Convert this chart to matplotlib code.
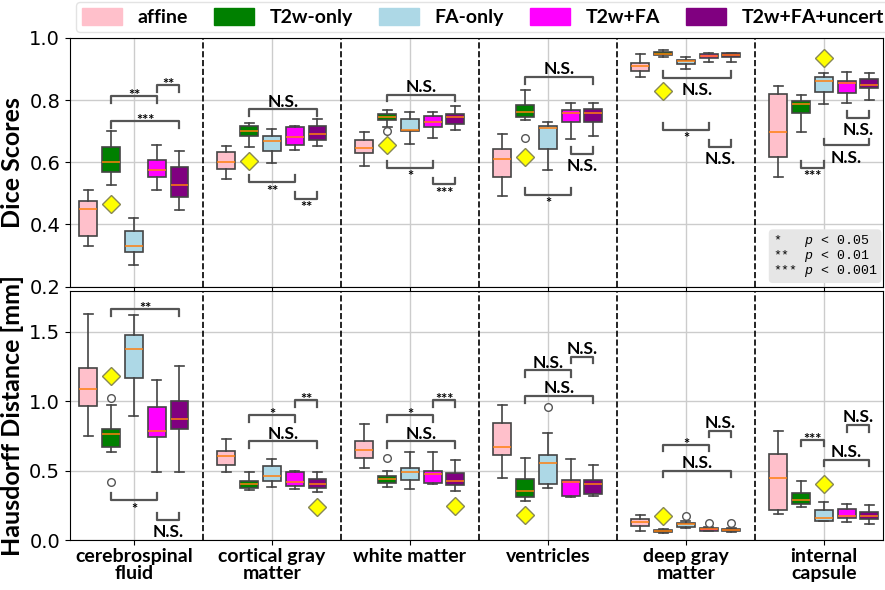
import numpy as np
import matplotlib.pyplot as plt
from matplotlib.patches import Patch

categories = ["cerebrospinal\nfluid", "cortical gray\nmatter", "white matter",
              "ventricles", "deep gray\nmatter", "internal\ncapsule"]
methods = ["affine", "T2w-only", "FA-only", "T2w+FA", "T2w+FA+uncert"]
colors = ["pink", "green", "lightblue", "magenta", "purple"]

# Dice scores, rows = categories, cols = methods
dice_lo = [[0.329, 0.528, 0.268, 0.512, 0.445],
           [0.547, 0.649, 0.599, 0.641, 0.652],
           [0.587, 0.714, 0.659, 0.678, 0.703],
           [0.490, 0.735, 0.575, 0.676, 0.684],
           [0.876, 0.939, 0.899, 0.923, 0.923],
           [0.552, 0.697, 0.788, 0.791, 0.800]]
dice_q1 = [[0.364, 0.569, 0.310, 0.553, 0.487],
           [0.577, 0.684, 0.637, 0.655, 0.673],
           [0.629, 0.735, 0.701, 0.712, 0.723],
           [0.554, 0.746, 0.642, 0.730, 0.728],
           [0.895, 0.944, 0.915, 0.935, 0.938],
           [0.618, 0.757, 0.827, 0.822, 0.838]]
dice_med = [[0.449, 0.600, 0.331, 0.576, 0.528],
            [0.600, 0.700, 0.668, 0.682, 0.692],
            [0.646, 0.747, 0.703, 0.728, 0.746],
            [0.609, 0.763, 0.709, 0.758, 0.757],
            [0.910, 0.949, 0.926, 0.943, 0.944],
            [0.697, 0.789, 0.861, 0.855, 0.850]]
dice_q3 = [[0.474, 0.648, 0.380, 0.608, 0.584],
           [0.632, 0.716, 0.686, 0.712, 0.717],
           [0.671, 0.756, 0.738, 0.749, 0.756],
           [0.643, 0.785, 0.717, 0.768, 0.772],
           [0.920, 0.956, 0.930, 0.948, 0.951],
           [0.820, 0.798, 0.873, 0.863, 0.867]]
dice_hi = [[0.512, 0.700, 0.419, 0.657, 0.635],
           [0.651, 0.727, 0.708, 0.718, 0.738],
           [0.698, 0.769, 0.763, 0.762, 0.781],
           [0.691, 0.834, 0.730, 0.790, 0.790],
           [0.947, 0.960, 0.940, 0.951, 0.953],
           [0.847, 0.818, 0.887, 0.891, 0.888]]
# outliers: (category, method) -> values
dice_fliers = {(2, 1): [0.700], (3, 1): [0.678]}
# yellow diamonds: method slot per category, value
dice_diam_slot = [1, 1, 1, 1, 1, 2]
dice_diam_val = [0.466, 0.604, 0.655, 0.617, 0.830, 0.937]

# Hausdorff distance [mm]
hd_lo = [[0.746, 0.634, 0.895, 0.493, 0.490],
         [0.493, 0.359, 0.383, 0.366, 0.344],
         [0.517, 0.380, 0.368, 0.402, 0.352],
         [0.445, 0.280, 0.373, 0.313, 0.318],
         [0.065, 0.050, 0.086, 0.065, 0.057],
         [0.184, 0.237, 0.136, 0.129, 0.117]]
hd_q1 = [[0.967, 0.670, 1.170, 0.744, 0.797],
         [0.541, 0.373, 0.423, 0.388, 0.373],
         [0.591, 0.411, 0.435, 0.414, 0.397],
         [0.612, 0.309, 0.404, 0.318, 0.335],
         [0.103, 0.055, 0.096, 0.067, 0.062],
         [0.218, 0.261, 0.139, 0.158, 0.148]]
hd_med = [[1.086, 0.763, 1.378, 0.785, 0.871],
          [0.605, 0.407, 0.464, 0.421, 0.404],
          [0.651, 0.440, 0.488, 0.474, 0.423],
          [0.670, 0.352, 0.553, 0.416, 0.400],
          [0.129, 0.062, 0.112, 0.077, 0.072],
          [0.445, 0.287, 0.158, 0.172, 0.175]]
hd_q3 = [[1.239, 0.799, 1.474, 0.955, 1.002],
         [0.639, 0.428, 0.536, 0.488, 0.440],
         [0.715, 0.464, 0.519, 0.500, 0.481],
         [0.844, 0.443, 0.615, 0.433, 0.435],
         [0.151, 0.072, 0.124, 0.086, 0.081],
         [0.620, 0.337, 0.215, 0.225, 0.203]]
hd_hi = [[1.629, 0.969, 1.622, 1.153, 1.256],
         [0.727, 0.490, 0.584, 0.500, 0.493],
         [0.835, 0.500, 0.632, 0.632, 0.577],
         [0.974, 0.591, 0.770, 0.584, 0.538],
         [0.182, 0.081, 0.136, 0.091, 0.086],
         [0.782, 0.423, 0.275, 0.261, 0.254]]
hd_fliers = {(0, 1): [1.024, 0.416], (2, 1): [0.593], (3, 2): [0.957],
             (4, 2): [0.170], (4, 3): [0.122], (4, 4): [0.120]}
hd_diam_slot = [1, 4, 4, 1, 1, 2]
hd_diam_val = [1.182, 0.237, 0.242, 0.182, 0.172, 0.400]

# significance brackets: (category, method a, method b, level, side, label)
dice_sig = [(0, 1, 3, 0.813, "above", "**"), (0, 3, 4, 0.848, "above", "**"),
            (0, 1, 4, 0.733, "above", "***"),
            (1, 1, 4, 0.770, "above", "N.S."), (1, 1, 3, 0.537, "below", "**"),
            (1, 3, 4, 0.483, "below", "**"),
            (2, 1, 4, 0.818, "above", "N.S."), (2, 1, 3, 0.583, "below", "*"),
            (2, 3, 4, 0.529, "below", "***"),
            (3, 1, 4, 0.875, "above", "N.S."), (3, 1, 3, 0.496, "below", "*"),
            (3, 3, 4, 0.627, "below", "N.S."),
            (4, 1, 4, 0.872, "below", "N.S."), (4, 1, 3, 0.705, "below", "*"),
            (4, 3, 4, 0.649, "below", "N.S."),
            (5, 1, 2, 0.583, "below", "***"), (5, 2, 4, 0.654, "below", "N.S."),
            (5, 3, 4, 0.742, "below", "N.S.")]
hd_sig = [(0, 1, 4, 1.665, "above", "**"), (0, 1, 3, 0.289, "below", "*"),
          (0, 3, 4, 0.146, "below", "N.S."),
          (1, 1, 3, 0.900, "above", "*"), (1, 1, 4, 0.711, "above", "N.S."),
          (1, 3, 4, 1.007, "above", "**"),
          (2, 1, 3, 0.900, "above", "*"), (2, 1, 4, 0.711, "above", "N.S."),
          (2, 3, 4, 1.007, "above", "***"),
          (3, 1, 3, 1.222, "above", "N.S."), (3, 1, 4, 1.036, "above", "N.S."),
          (3, 3, 4, 1.321, "above", "N.S."),
          (4, 1, 3, 0.687, "above", "*"), (4, 1, 4, 0.500, "above", "N.S."),
          (4, 3, 4, 0.787, "above", "N.S."),
          (5, 1, 2, 0.722, "above", "***"), (5, 2, 4, 0.579, "above", "N.S."),
          (5, 3, 4, 0.828, "above", "N.S.")]

plt.rcParams["font.family"] = ["Lato", "DejaVu Sans"]
plt.rcParams["mathtext.fontset"] = "custom"
plt.rcParams["mathtext.it"] = "Liberation Mono:italic"

offsets = (np.arange(5) - 2) * 0.165
edge = "#444444"


def draw_panel(ax, lo, q1, med, q3, hi, fliers, dslot, dval, sig, ylim):
    for c in range(len(categories)):
        stats = []
        for m in range(len(methods)):
            stats.append(dict(whislo=lo[c][m], q1=q1[c][m], med=med[c][m],
                              q3=q3[c][m], whishi=hi[c][m],
                              fliers=fliers.get((c, m), [])))
        bp = ax.bxp(stats, positions=c + offsets, widths=0.13, patch_artist=True,
                    manage_ticks=False,
                    boxprops=dict(edgecolor=edge, linewidth=1.2),
                    medianprops=dict(color="#ff7f0e", linewidth=1.1),
                    whiskerprops=dict(color=edge, linewidth=1.2),
                    capprops=dict(color=edge, linewidth=1.2),
                    flierprops=dict(marker="o", markerfacecolor="white",
                                    markeredgecolor="#555555", markersize=5.5))
        for patch, col in zip(bp["boxes"], colors):
            patch.set_facecolor(col)
        ax.plot(c + offsets[dslot[c]], dval[c], marker="D", markersize=9.5,
                markerfacecolor="yellow", markeredgecolor="#888855",
                linestyle="none", zorder=4)

    tip = 0.027 * (ylim[1] - ylim[0])
    for c, a, b, y, side, label in sig:
        x1, x2 = c + offsets[a], c + offsets[b]
        if side == "above":
            ys = [y - tip, y, y, y - tip]
        else:
            ys = [y + tip, y, y, y + tip]
        ax.plot([x1, x1, x2, x2], ys, color="#555555", linewidth=1.6)
        ns = label == "N.S."
        size = 12.5 if ns else 10.5
        if side == "above":
            dy, va = (2, "baseline") if ns else (-3, "baseline")
        else:
            dy, va = (-3, "top") if ns else (-2, "top")
        ax.annotate(label, ((x1 + x2) / 2, y), xytext=(0, dy),
                    textcoords="offset points", ha="center", va=va,
                    fontsize=size, fontweight="bold", color="black")

    for c in range(len(categories) - 1):
        ax.axvline(c + 0.5, color="black", linestyle="--", linewidth=1.2)
    ax.set_ylim(*ylim)
    ax.set_xlim(-0.464, 5.43)
    ax.set_xticks(range(len(categories)))
    ax.grid(True, color="#cccccc", linewidth=1)
    ax.set_axisbelow(True)
    ax.tick_params(axis="y", labelsize=14, labelfontfamily="DejaVu Sans")


fig, (ax_d, ax_h) = plt.subplots(2, 1, figsize=(8.85, 5.9), dpi=100)
fig.subplots_adjust(left=0.079, right=0.998, top=0.9356, bottom=0.0847, hspace=0.02)

draw_panel(ax_d, dice_lo, dice_q1, dice_med, dice_q3, dice_hi, dice_fliers,
           dice_diam_slot, dice_diam_val, dice_sig, (0.2, 1.0))
draw_panel(ax_h, hd_lo, hd_q1, hd_med, hd_q3, hd_hi, hd_fliers,
           hd_diam_slot, hd_diam_val, hd_sig, (0.0, 1.79))

ax_d.set_yticks([0.2, 0.4, 0.6, 0.8, 1.0])
ax_d.tick_params(axis="x", labelbottom=False)
ax_h.set_yticks([0.0, 0.5, 1.0, 1.5])
ax_h.set_xticklabels(categories, fontsize=14, fontweight="bold", linespacing=1.05)
ax_h.tick_params(axis="x", pad=2)

ax_d.set_ylabel("Dice Scores", fontsize=18, fontweight="bold")
ax_h.set_ylabel("Hausdorff Distance [mm]", fontsize=18, fontweight="bold")
fig.align_ylabels([ax_d, ax_h])

ax_d.text(0.993, 0.03, "*   $p$ < 0.05\n**  $p$ < 0.01\n*** $p$ < 0.001",
          transform=ax_d.transAxes, ha="right", va="bottom", multialignment="left",
          family="Liberation Mono", fontsize=9.5, linespacing=0.9,
          bbox=dict(boxstyle="round,pad=0.3", facecolor="#e6e6e6", edgecolor="none"))

handles = [Patch(facecolor=col, edgecolor=col) for col in colors]
fig.legend(handles, methods, loc="upper center", bbox_to_anchor=(0.546, 1.0),
           ncol=5, prop=dict(weight="bold", size=14), handlelength=2.05,
           handleheight=1.0, columnspacing=1.35, borderaxespad=0.1,
           borderpad=0.3, edgecolor="#dddddd", fancybox=True)

fig.savefig("out.png", dpi=100)
